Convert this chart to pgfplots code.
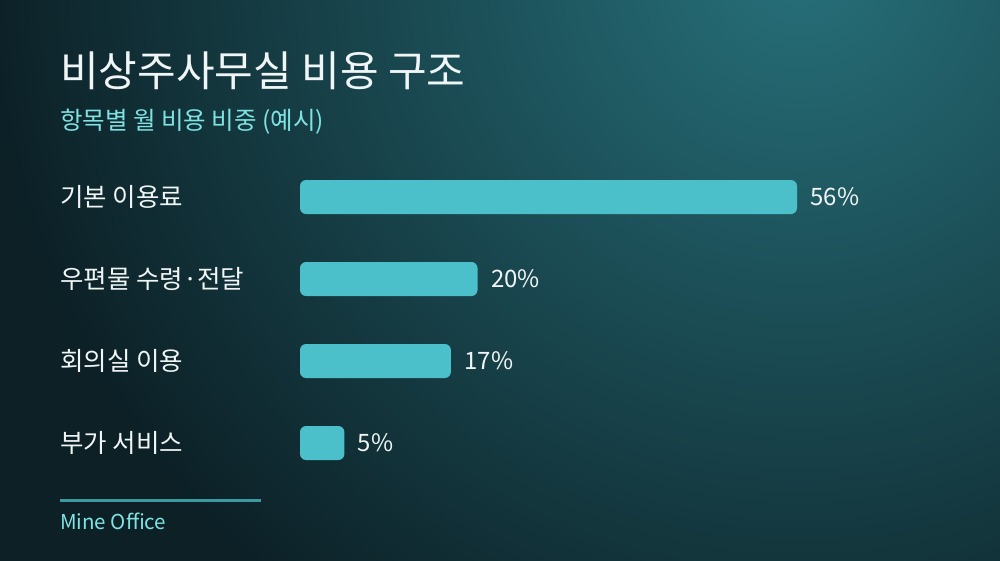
\documentclass[border=0pt]{standalone}
\usepackage{pgfplots}
\pgfplotsset{compat=1.18}
\usepackage{fontspec}
\setmainfont{Noto Sans CJK KR}
\definecolor{bgdark}{HTML}{0C2026}
\definecolor{bgteal}{HTML}{27707A}
\definecolor{barc}{HTML}{4BBFCA}
\definecolor{labc}{HTML}{F0F5F5}
\definecolor{subc}{HTML}{7FE3E3}
\definecolor{footline}{HTML}{3A9AA0}

\begin{document}
\begin{tikzpicture}[x=1pt,y=1pt]
  \useasboundingbox (0,0) rectangle (1000,560);
  % background, a little larger than the page
  \begin{scope}
    \clip (-4,-4) rectangle (1004,564);
    \fill[bgdark] (-4,-4) rectangle (1004,564);
    \shade[inner color=bgteal, outer color=bgdark] (800,600) circle (820);
  \end{scope}

  % title block
  \node[anchor=base west, inner sep=0, text=labc, font=\fontsize{42}{48}\selectfont] at (60,473) {비상주사무실 비용 구조};
  \node[anchor=base west, inner sep=0, text=subc, font=\fontsize{24.5}{29}\selectfont] at (60,430) {항목별 월 비용 비중 (예시)};

  \begin{axis}[
    at={(300pt,76pt)}, anchor=south west,
    scale only axis,
    width=532.5pt, height=328pt,
    xmin=0, xmax=60,
    ymin=-0.5, ymax=3.5,
    y dir=reverse,
    xbar, bar width=34pt,
    axis line style={draw=none},
    xtick=\empty,
    ytick={0,1,2,3},
    yticklabels={기본 이용료, 우편물 수령·전달, 회의실 이용, 부가 서비스},
    major tick length=0pt,
    yticklabel style={anchor=west, xshift=-240pt, inner sep=0pt,
      text=labc, font=\fontsize{25.5}{30}\selectfont},
    clip=false,
    point meta=x,
    nodes near coords={\pgfmathprintnumber{\pgfplotspointmeta}\%},
    /pgf/number format/assume math mode=true,
    every node near coord/.append style={anchor=west, xshift=10pt,
      text=labc, font=\fontsize{24}{28}\selectfont},
  ]
    \addplot[fill=barc, draw=none, rounded corners=6pt] coordinates {
      (56,0) (20,1) (17,2) (5,3)
    };
  \end{axis}

  % footer
  \draw[footline, line width=3pt] (60,60) -- (261,60);
  \node[anchor=base west, inner sep=0, text=subc, font=\fontsize{20.5}{24}\selectfont] at (60,31) {Mine Office};
\end{tikzpicture}
\end{document}
